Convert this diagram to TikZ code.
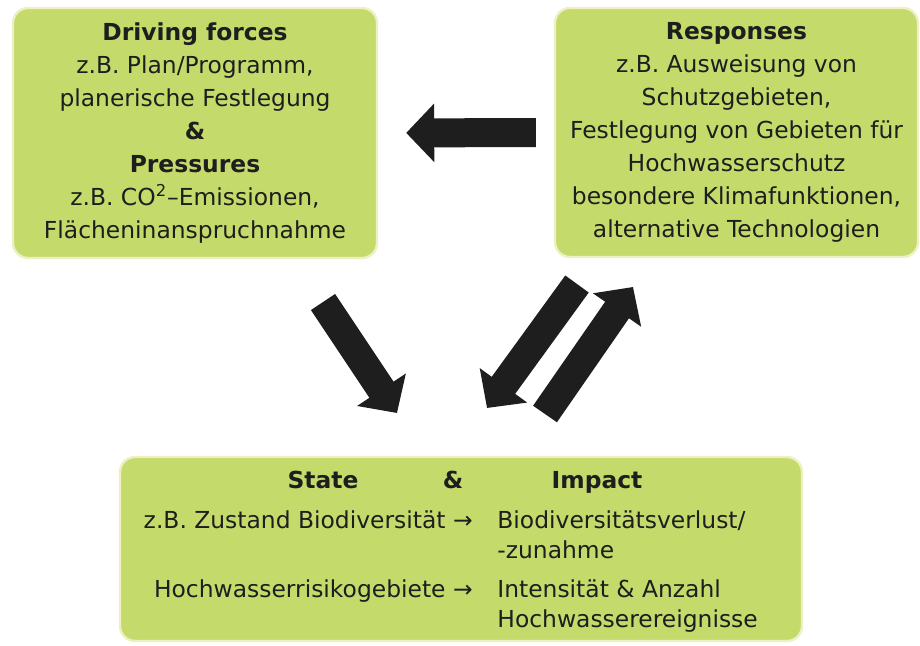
\documentclass[tikz,border=0pt]{standalone}
\usepackage{fontspec}
\setmainfont{DejaVu Sans}
\usetikzlibrary{arrows.meta}
\definecolor{boxgreen}{HTML}{C4DB6C}
\definecolor{boxhalo}{HTML}{EEF0C4}
\definecolor{ink}{HTML}{1E1E1E}
\tikzset{
  dpsir/.style={rectangle, rounded corners=7.5pt, fill=boxgreen, draw=boxhalo, line width=1.2pt,
    text=ink, align=center, font=\fontsize{11.7}{16.5}\selectfont, inner sep=0pt},
  txt/.style={text=ink, font=\fontsize{11.7}{15}\selectfont, inner sep=0pt},
  bigarrow/.style={ink, line width=14.5pt, -{Triangle[length=14pt, width=28.5pt]}}
}
\begin{document}
\begin{tikzpicture}[x=0.5pt, y=-0.5pt]
        \useasboundingbox (0,0) rectangle (920,646);

        \node[dpsir, minimum width=182pt, minimum height=125pt] (df) at (195,133)
          {\textbf{Driving forces}\\z.B. Plan/Programm,\\planerische Festlegung\\\textbf{\&}\\\textbf{Pressures}\\
           z.B. CO\textsuperscript{2}–Emissionen,\\Flächeninanspruchnahme};
        \node[dpsir, minimum width=181.5pt, minimum height=124.5pt] (resp) at (736.5,132.5)
          {\textbf{Responses}\\z.B. Ausweisung von\\Schutzgebieten,\\Festlegung von Gebieten für\\Hochwasserschutz\\
           besondere Klimafunktionen,\\alternative Technologien};
        \node[dpsir, minimum width=341pt, minimum height=92pt] (si) at (461,549) {};

        \node[txt, anchor=base] (state) at (323,488) {\textbf{State}};
        \node[txt, anchor=base] (amp) at (453,488) {\textbf{\&}};
        \node[txt, anchor=base] (impact) at (597,488) {\textbf{Impact}};
        \node[txt, anchor=base east] (bio) at (473,528) {z.B. Zustand Biodiversität~→};
        \node[txt, anchor=base west] (loss) at (497,528) {Biodiversitätsverlust/};
        \node[txt, anchor=base west] (gain) at (497,558) {-zunahme};
        \node[txt, anchor=base east] (risk) at (473,597) {Hochwasserrisikogebiete~→};
        \node[txt, anchor=base west] (inten) at (497,597) {Intensität \& Anzahl};
        \node[txt, anchor=base west] (events) at (497,627) {Hochwasserereignisse};

        \coordinate (a1s) at (323,302);
        \coordinate (a1e) at (397,413);
        \coordinate (a2s) at (577,284);
        \coordinate (a2e) at (487,408);
        \coordinate (a3s) at (545,414);
        \coordinate (a3e) at (633,287);

        \draw[bigarrow, shorten <=9pt, shorten >=14pt] (resp.west) -- (df.east);
        \draw[bigarrow] (a1s) -- (a1e);
        \draw[bigarrow] (a2s) -- (a2e);
        \draw[bigarrow] (a3s) -- (a3e);
      \end{tikzpicture}
\end{document}
